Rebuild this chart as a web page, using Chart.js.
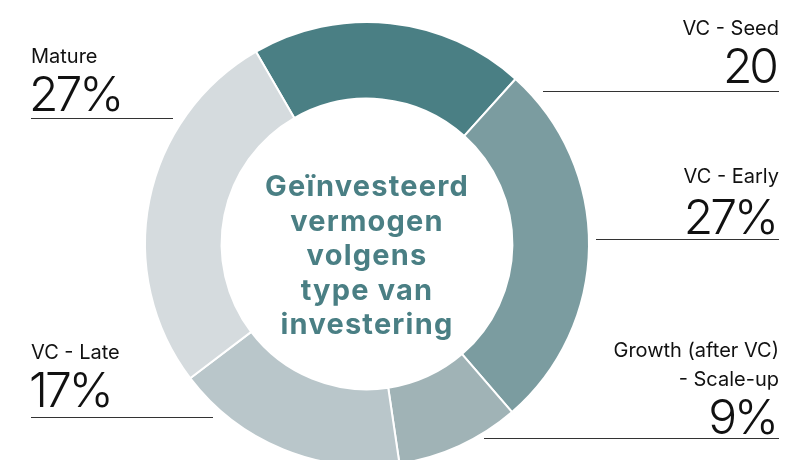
<!DOCTYPE html>
<html>
<head>
<meta charset="utf-8">
<script src="https://cdn.jsdelivr.net/npm/chart.js@4"></script>
<style>
  html, body { margin: 0; padding: 0; background: #fff; overflow: hidden; width: 789px; height: 460px; }
  #wrap { position: absolute; left: 0; top: 0; width: 789px; height: 490px; }
  .t { position: absolute; font-family: Inter, "Noto Sans", sans-serif; color: #111; line-height: 1; white-space: nowrap; }
  .s { font-size: 20px; font-weight: 400; }
  .b { font-size: 48px; font-weight: 300; letter-spacing: -3px; }
  .r { text-align: right; right: 10px; }
  .b.r { right: 13px; }
  .ln { position: absolute; height: 0; border-top: 1.3px solid #333; }
  #mid { position: absolute; left: 217px; top: 169px; width: 300px; text-align: center;
         font-family: Inter, "Noto Sans", sans-serif; font-weight: 700; font-size: 29px; line-height: 34.5px;
         letter-spacing: 1.2px; color: #4a7f84; }
</style>
</head>
<body>
<div id="wrap"><canvas id="myChart" width="789" height="490"></canvas></div>
<div id="labels"></div>
<div id="mid">Geïnvesteerd<br>vermogen<br>volgens<br>type van<br>investering</div>
<script>
// data
var categories = ["VC - Seed", "VC - Early", "Growth (after VC) - Scale-up", "VC - Late", "Mature"];
var values = [20, 27, 9, 17, 27];
var valueTexts = ["20", "27%", "9%", "17%", "27%"];
var colors = ["#4a7f84", "#7b9ca0", "#a0b3b6", "#b9c6ca", "#d5dbde"];

//----------------------------------labels (html text)---------------------------
// name lines, value text, underline
var labelBoxes = [
  {side: "r", names: ["VC - Seed"], tops: [18], bigTop: 42, lineY: 91, x1: 543, x2: 779},
  {side: "r", names: ["VC - Early"], tops: [166], bigTop: 193, lineY: 239, x1: 596, x2: 779},
  {side: "r", names: ["Growth (after VC)", "- Scale-up"], tops: [340, 369], bigTop: 393, lineY: 438, x1: 484, x2: 779},
  {side: "l", names: ["VC - Late"], tops: [342], bigTop: 366, lineY: 417, x1: 31, x2: 213},
  {side: "l", names: ["Mature"], tops: [46], bigTop: 70, lineY: 118, x1: 31, x2: 173}
];

var holder = document.getElementById("labels");
labelBoxes.forEach(function (lb, i) {
  lb.names.forEach(function (n, k) {
    var d = document.createElement("div");
    d.className = "t s" + (lb.side == "r" ? " r" : "");
    d.textContent = n;
    d.style.top = lb.tops[k] + "px";
    if (lb.side == "l") d.style.left = "31px";
    holder.appendChild(d);
  });
  var big = document.createElement("div");
  big.className = "t b" + (lb.side == "r" ? " r" : "");
  big.textContent = valueTexts[i];
  big.style.top = lb.bigTop + "px";
  if (lb.side == "l") big.style.left = "29px";
  holder.appendChild(big);
  var line = document.createElement("div");
  line.className = "ln";
  line.style.top = lb.lineY + "px";
  line.style.left = lb.x1 + "px";
  line.style.width = (lb.x2 - lb.x1) + "px";
  holder.appendChild(line);
});

//-----------------------------------CHART--------------------------------
var ctx = document.getElementById('myChart').getContext('2d');
var myChart = new Chart(ctx, {
  type: "doughnut",
  data: {
    labels: categories,
    datasets: [{
      data: values,
      backgroundColor: colors,
      borderColor: "#ffffff",
      borderWidth: 2
    }]
  },
  options: {
    responsive: false,
    animation: false,
    devicePixelRatio: 1,
    rotation: -30,
    cutout: "65.5%",
    layout: { padding: { top: 21, bottom: 23, left: 0, right: 55 } },
    plugins: {
      legend: { display: false },
      tooltip: { enabled: false }
    }
  }
});
</script>
</body>
</html>
